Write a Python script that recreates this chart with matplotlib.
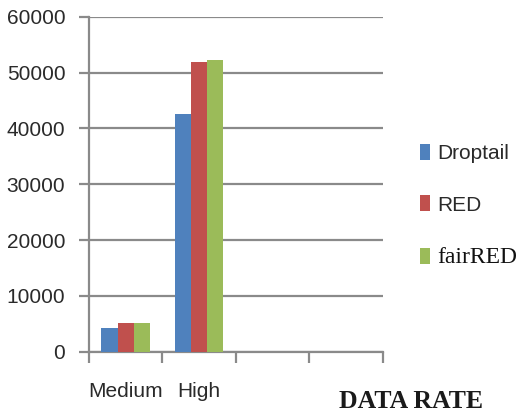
import matplotlib
matplotlib.use("Agg")
import matplotlib.pyplot as plt
import numpy as np

categories = ["Medium", "High", "", ""]
series_names = ["Droptail", "RED", "fairRED"]
droptail = [4200, 42600]
red = [5100, 51800]
fairred = [5100, 52200]
yticks = [0, 10000, 20000, 30000, 40000, 50000, 60000]

colors = ["#4F81BD", "#C0504D", "#9BBB59"]
sans = ["Liberation Sans", "DejaVu Sans"]
serif = ["Liberation Serif", "DejaVu Serif"]
grid_grey = "#8a8a8a"
text_grey = "#2a2a2a"

fig = plt.figure(figsize=(5.26, 4.12), dpi=100)
ax = fig.add_axes([0.169, 0.1464, 0.559, 0.8131])

n = len(categories)
x = np.arange(len(droptail))
w = 0.22
handles = []
for i, (vals, name, c) in enumerate(zip([droptail, red, fairred], series_names, colors)):
    h = ax.bar(x + (i - 1) * w, vals, width=w, color=c, label=name, zorder=3)
    handles.append(h)

ax.set_xlim(-0.5, n - 0.5)
ax.set_ylim(0, 60000)
ax.set_yticks(yticks)
ax.set_yticklabels([str(t) for t in yticks], family=sans, fontsize=15, color=text_grey)
ax.yaxis.grid(True, color=grid_grey, linewidth=1.6, zorder=0)
ax.tick_params(axis="y", length=7, width=1.6, color=grid_grey, pad=10)

ax.set_xticks(np.arange(n))
ax.set_xticklabels(categories, family=sans, fontsize=15, color=text_grey)
ax.set_xticks(np.arange(n + 1) - 0.5, minor=True)
ax.tick_params(axis="x", which="major", length=0, pad=22)
ax.tick_params(axis="x", which="minor", length=8, width=1.6, color=grid_grey)

for s in ["top", "right"]:
    ax.spines[s].set_visible(False)
for s in ["left", "bottom"]:
    ax.spines[s].set_color(grid_grey)
    ax.spines[s].set_linewidth(1.6)

leg = fig.legend(handles=handles, labels=series_names, loc="upper left",
                 bbox_to_anchor=(420 / 526, 1 - 144 / 412), frameon=False,
                 borderpad=0, borderaxespad=0,
                 handlelength=0.48, handleheight=0.8, handletextpad=0.34,
                 labelspacing=1.55, prop={"family": sans, "size": 15})
for t in leg.get_texts():
    t.set_color(text_grey)
leg.get_texts()[2].set_fontfamily(serif)
leg.get_texts()[2].set_fontsize(17)
leg.get_texts()[2].set_color("#111111")

fig.text(339 / 526, 3.5 / 412, "DATA RATE", family=serif, fontsize=18.5,
         fontweight="bold", color="#1a1a1a", va="baseline")

fig.savefig("out.png", dpi=100)
